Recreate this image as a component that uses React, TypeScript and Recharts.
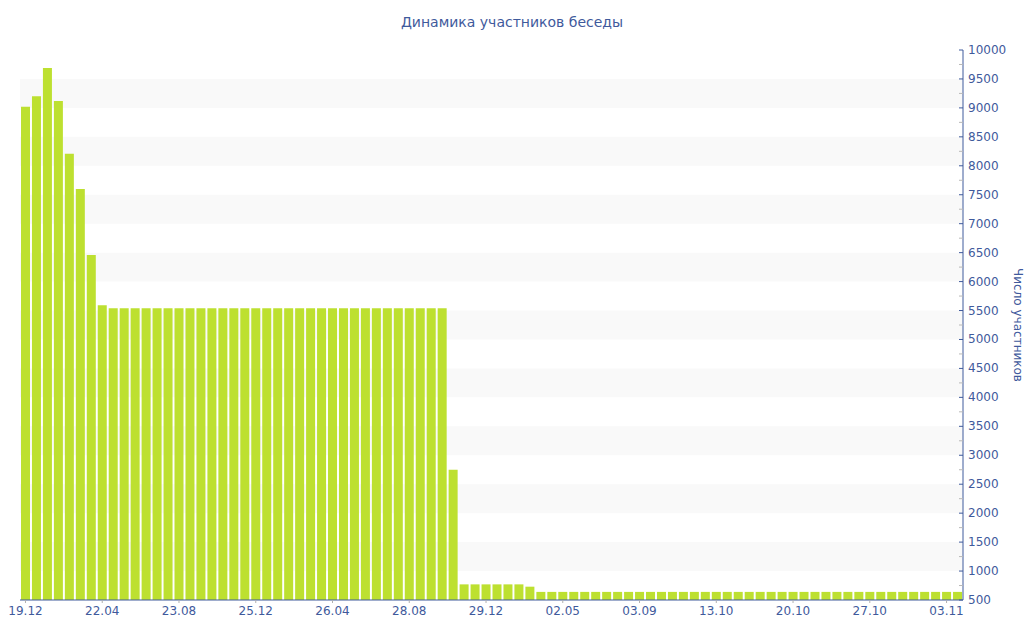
import React from 'react';
import { BarChart, Bar, XAxis, YAxis, ReferenceArea } from 'recharts';

const title = 'Динамика участников беседы';
const yAxisTitle = 'Число участников';

const tickLabels = ['19.12', '22.04', '23.08', '25.12', '26.04', '28.08', '29.12', '02.05', '03.09', '13.10', '20.10', '27.10', '03.11'];
const xTickIndices = [0, 7, 14, 21, 28, 35, 42, 49, 56, 63, 70, 77, 84];

const values = [
  9020, 9200, 9690, 9120, 8210, 7600, 6460, 5590,
  5540, 5540, 5540, 5540, 5540, 5540, 5540, 5540, 5540, 5540,
  5540, 5540, 5540, 5540, 5540, 5540, 5540, 5540, 5540, 5540,
  5540, 5540, 5540, 5540, 5540, 5540, 5540, 5540, 5540, 5540, 5540,
  2750,
  770, 770, 770, 770, 770, 770,
  730,
  640, 640, 640, 640, 640, 640, 640, 640, 640, 640,
  640, 640, 640, 640, 640, 640, 640, 640, 640, 640,
  640, 640, 640, 640, 640, 640, 640, 640, 640, 640,
  640, 640, 640, 640, 640, 640, 640, 640, 640,
];

const yTicks = [
  500, 750, 1000, 1250, 1500, 1750, 2000, 2250, 2500, 2750, 3000, 3250, 3500, 3750,
  4000, 4250, 4500, 4750, 5000, 5250, 5500, 5750, 6000, 6250, 6500, 6750, 7000, 7250,
  7500, 7750, 8000, 8250, 8500, 8750, 9000, 9250, 9500, 9750, 10000,
];

const bandStarts = [1000, 2000, 3000, 4000, 5000, 6000, 7000, 8000, 9000];
const bandHeight = 500;

const data = values.map((v, i) => ({ idx: i, value: v }));

const AXIS = '#3f5a9c';
const TEXT = '#3f5a9c';
const FONT = '"DejaVu Sans", Verdana, sans-serif';

const YTick = (props: any) => {
  const { x, y, payload } = props;
  const v = payload.value as number;
  const major = v % 500 === 0;
  const axisX = x - 5;
  return (
    <g>
      <line x1={axisX - 4} x2={axisX} y1={y} y2={y} stroke={major ? AXIS : '#b8b8b8'} strokeWidth={1} />
      {major && (
        <text x={x} y={y} dy={4} fill={TEXT} fontSize={12} fontFamily={FONT} textAnchor="start">
          {v}
        </text>
      )}
    </g>
  );
};

const XTick = (props: any) => {
  const { x, y, payload } = props;
  const pos = xTickIndices.indexOf(payload.value);
  const label = pos >= 0 ? tickLabels[pos] : '';
  return (
    <g>
      <line x1={x} x2={x} y1={600} y2={603} stroke="#b0b0b0" />
      <text x={x} y={y} dy={9} fill={TEXT} fontSize={12} fontFamily={FONT} textAnchor="middle">
        {label}
      </text>
    </g>
  );
};

const YLabel = (props: any) => {
  const vb = props.viewBox || {};
  const cx = (vb.x ?? 963) + 55;
  const cy = (vb.y ?? 50) + (vb.height ?? 550) / 2;
  return (
    <text
      x={cx}
      y={cy}
      transform={`rotate(90 ${cx} ${cy})`}
      textAnchor="middle"
      dominantBaseline="central"
      fill={TEXT}
      fontSize={12}
      fontFamily={FONT}
    >
      {yAxisTitle}
    </text>
  );
};

export default function App() {
  return (
    <div style={{ position: 'absolute', left: 0, top: 0, width: 1024, height: 640, background: '#fff' }}>
      <div
        style={{
          position: 'absolute',
          left: 0,
          top: 14,
          width: 1024,
          textAlign: 'center',
          fontFamily: FONT,
          fontSize: 14,
          lineHeight: '16px',
          color: TEXT,
        }}
      >
        {title}
      </div>
      <BarChart
        width={1024}
        height={640}
        data={data}
        margin={{ top: 50, right: 0, bottom: 0, left: 20 }}
        barCategoryGap={1}
      >
        {bandStarts.map((b) => (
          <ReferenceArea
            key={b}
            y1={b}
            y2={b + bandHeight}
            fill="#f9f9f9"
            fillOpacity={1}
            stroke="none"
            ifOverflow="visible"
          />
        ))}
        <XAxis
          dataKey="idx"
          type="category"
          ticks={xTickIndices}
          interval={0}
          height={40}
          axisLine={{ stroke: AXIS }}
          tickLine={false}
          tickSize={3}
          tickMargin={3}
          tick={<XTick />}
        />
        <YAxis
          orientation="right"
          width={61}
          domain={[500, 10000]}
          ticks={yTicks}
          interval={0}
          allowDataOverflow
          axisLine={{ stroke: AXIS }}
          tickLine={false}
          tickSize={0}
          tickMargin={5}
          tick={<YTick />}
          label={<YLabel />}
        />
        <Bar dataKey="value" fill="#bde030" isAnimationActive={false} />
      </BarChart>
    </div>
  );
}
